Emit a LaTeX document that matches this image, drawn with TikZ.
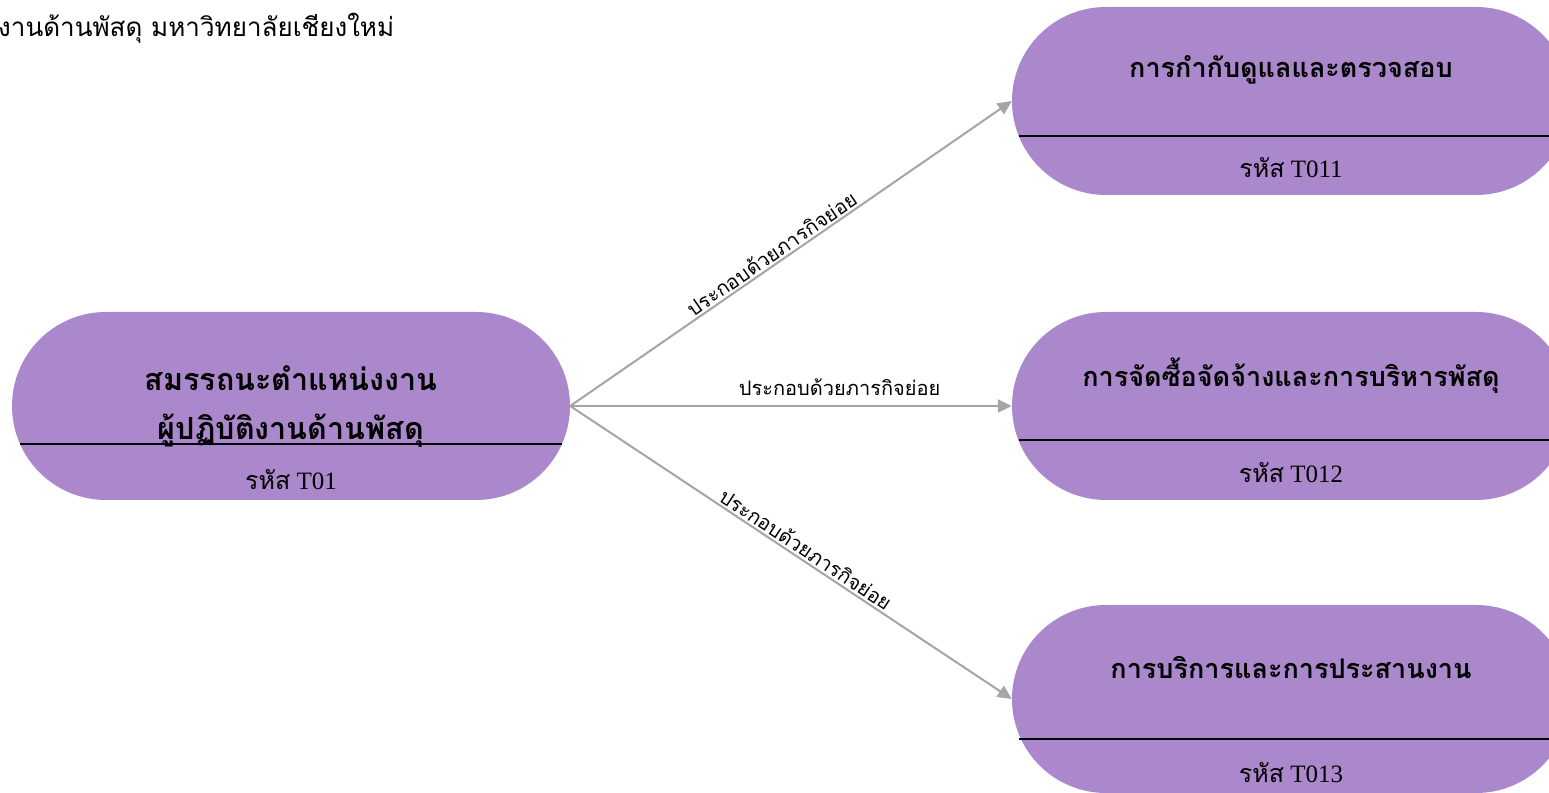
\documentclass[tikz,border=0pt]{standalone}
\usepackage{fontspec}
\setmainfont{Liberation Serif}
\newfontfamily\thaifont[Script=Thai]{Loma}
\usetikzlibrary{shapes.misc,arrows.meta}
\definecolor{capsule}{HTML}{AA88CB}
\definecolor{linkgray}{HTML}{A5A5A5}
\newcommand\thaitxt[1]{{\thaifont #1}}
\tikzset{
  capsule/.style={rounded rectangle, fill=capsule, draw=none,
    minimum width=558pt, minimum height=188pt, inner sep=0pt},
  title/.style={font=\thaifont\bfseries\fontsize{27}{32}\selectfont, text=black},
  bigtitle/.style={font=\thaifont\bfseries\fontsize{30.5}{36}\selectfont, text=black},
  code/.style={font=\fontsize{25}{30}\selectfont, text=black},
  divider/.style={draw=black, line width=1.3pt},
  link/.style={draw=linkgray, line width=2pt, -{Triangle[length=14pt,width=13pt]}},
  linklabel/.style={font=\thaifont\fontsize{20}{24}\selectfont, text=black, sloped, above, inner sep=2pt}
}
\begin{document}
\begin{tikzpicture}[x=1pt,y=1pt]
  \clip (0,0) rectangle (1549,792);
  \fill[white] (0,0) rectangle (1549,792);

  % header line
  \node[anchor=west, font=\thaifont\fontsize{26}{30}\selectfont, inner sep=0pt] (head) at (-2,764)
    {งานด้านพัสดุ มหาวิทยาลัยเชียงใหม่};

  % capsules
  \node[capsule] (main) at (291,386) {};
  \node[capsule] (t011) at (1291,691) {};
  \node[capsule] (t012) at (1291,386) {};
  \node[capsule] (t013) at (1291,93) {};

  % dividers
  \draw[divider] ([shift={(-271,-38)}]main.center) -- ([shift={(271,-38)}]main.center);
  \draw[divider] ([shift={(-272,-35)}]t011.center) -- ([shift={(272,-35)}]t011.center);
  \draw[divider] ([shift={(-272,-34)}]t012.center) -- ([shift={(272,-34)}]t012.center);
  \draw[divider] ([shift={(-272,-40)}]t013.center) -- ([shift={(272,-40)}]t013.center);

  % texts
  \node[bigtitle] (mainA) at (291,414) {สมรรถนะตำแหน่งงาน};
  \node[bigtitle] (mainB) at (291,361) {ผู้ปฏิบัติงานด้านพัสดุ};
  \node[code] (mainC) at (291,312) {\thaitxt{รหัส} T01};

  \node[title] (t011A) at (1291,722) {การกำกับดูแลและตรวจสอบ};
  \node[code] (t011C) at (1291,624) {\thaitxt{รหัส} T011};

  \node[title] (t012A) at (1291,416) {การจัดซื้อจัดจ้างและการบริหารพัสดุ};
  \node[code] (t012C) at (1291,319) {\thaitxt{รหัส} T012};

  \node[title] (t013A) at (1291,125) {การบริการและการประสานงาน};
  \node[code] (t013C) at (1291,19) {\thaitxt{รหัส} T013};

  % connectors
  \draw[link] (main.east) -- node[linklabel, pos=0.47] (l1) {ประกอบด้วยภารกิจย่อย} (t011.west);
  \draw[link] (main.east) -- node[linklabel, pos=0.61, yshift=7pt] (l2) {ประกอบด้วยภารกิจย่อย} (t012.west);
  \draw[link] (main.east) -- node[linklabel, pos=0.52] (l3) {ประกอบด้วยภารกิจย่อย} (t013.west);
\end{tikzpicture}
\end{document}
